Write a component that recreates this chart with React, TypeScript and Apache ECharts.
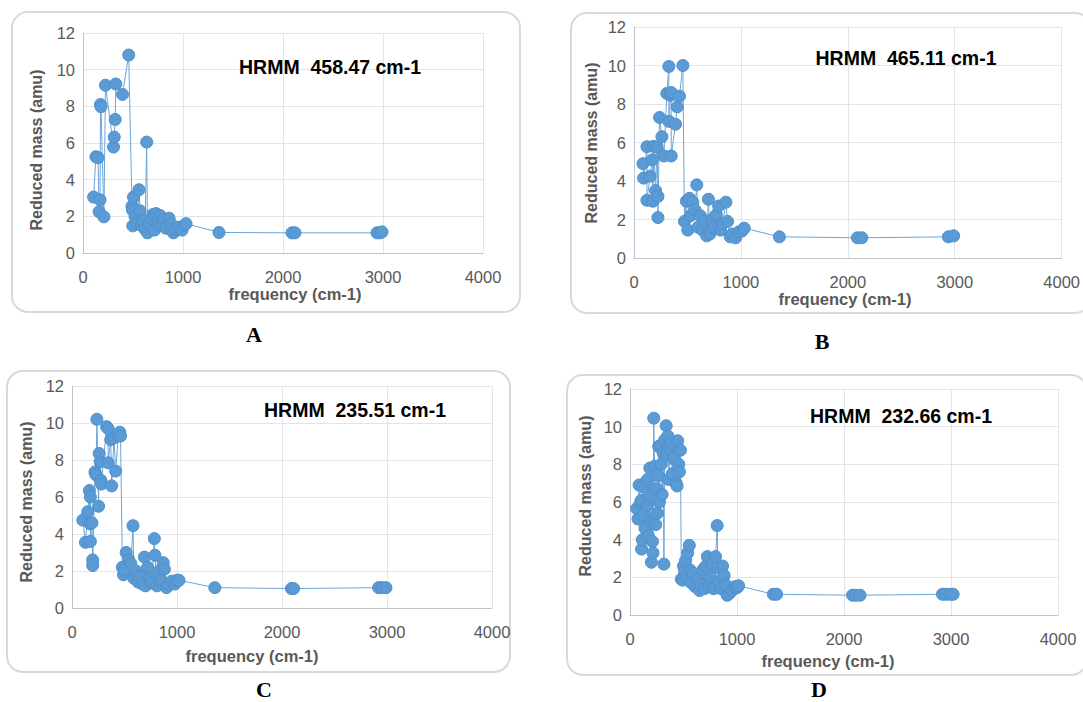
import React, { useEffect, useRef } from "react";
import * as echarts from "echarts";

// ---------- data ----------
const xTicks = [0, 1000, 2000, 3000, 4000];
const yTicks = [0, 2, 4, 6, 8, 10, 12];
const panelTitles = ["HRMM  458.47 cm-1", "HRMM  465.11 cm-1", "HRMM  235.51 cm-1", "HRMM  232.66 cm-1"];
const panelLetters = ["A", "B", "C", "D"];
const xName = "frequency (cm-1)";
const yName = "Reduced mass (amu)";

const freqA = [106, 129, 150, 161, 170, 175, 180, 209, 225, 305, 312, 322, 328, 395, 457, 490, 495, 498, 505, 520, 540, 560, 570, 585, 600, 620, 637, 645, 660, 680, 700, 715, 730, 750, 770, 790, 810, 830, 860, 880, 905, 930, 960, 990, 1010, 1030, 1360, 2090, 2120, 2940, 2970, 2990];
const massA = [3.05, 5.25, 5.2, 2.25, 2.9, 8.1, 7.98, 1.97, 9.15, 5.78, 6.32, 7.28, 9.22, 8.65, 10.8, 2.55, 2.35, 1.48, 3.05, 2.0, 1.6, 3.45, 2.3, 1.5, 1.75, 1.3, 6.05, 1.1, 1.6, 1.9, 2.1, 1.25, 2.15, 1.7, 2.05, 1.5, 1.85, 1.35, 1.9, 1.6, 1.1, 1.3, 1.4, 1.25, 1.5, 1.6, 1.12, 1.1, 1.1, 1.1, 1.1, 1.15];

const freqB = [84, 90, 121, 121, 150, 171, 177, 183, 202, 215, 224, 224, 239, 261, 280, 307, 326, 326, 340, 348, 348, 388, 404, 425, 457, 472, 490, 503, 519, 530, 550, 570, 587, 600, 620, 640, 660, 680, 696, 710, 730, 750, 770, 792, 810, 830, 860, 875, 900, 920, 950, 980, 1010, 1031, 1360, 2090, 2130, 2940, 2990];
const massB = [4.9, 4.15, 5.78, 3.0, 4.25, 5.1, 2.95, 5.8, 3.5, 5.75, 3.2, 2.1, 7.3, 6.3, 5.3, 8.55, 9.95, 7.1, 8.45, 8.6, 5.3, 6.95, 7.85, 8.4, 10.0, 1.9, 2.95, 1.45, 3.1, 2.2, 2.9, 2.5, 3.8, 1.6, 2.2, 1.45, 1.9, 1.15, 3.05, 1.25, 2.0, 1.6, 2.25, 2.7, 1.45, 1.8, 2.9, 1.9, 1.1, 1.25, 1.05, 1.35, 1.4, 1.55, 1.1, 1.05, 1.05, 1.1, 1.15];

const freqC = [103, 128, 150, 166, 172, 175, 175, 190, 197, 197, 219, 228, 237, 253, 259, 268, 275, 280, 330, 344, 344, 369, 378, 400, 416, 440, 455, 462, 480, 490, 500, 516, 540, 560, 581, 590, 610, 630, 650, 670, 690, 700, 720, 740, 760, 784, 790, 810, 830, 850, 869, 880, 900, 920, 950, 980, 1000, 1019, 1360, 2090, 2110, 2920, 2950, 2990];
const massC = [4.75, 3.55, 5.2, 6.35, 4.55, 6.0, 3.6, 4.6, 2.6, 2.3, 7.35, 7.2, 10.2, 5.5, 8.35, 7.9, 6.9, 6.7, 9.8, 9.7, 7.85, 9.1, 6.6, 9.2, 7.4, 9.3, 9.5, 9.3, 2.2, 1.8, 2.05, 3.0, 2.6, 2.4, 4.45, 1.6, 2.0, 1.4, 1.7, 1.3, 2.75, 1.2, 2.2, 1.6, 1.35, 3.75, 2.85, 1.2, 2.0, 1.5, 2.45, 2.1, 1.1, 1.3, 1.45, 1.3, 1.5, 1.5, 1.1, 1.05, 1.05, 1.1, 1.1, 1.1];

const freqD = [62, 75, 85, 92, 100, 108, 108, 115, 123, 130, 140, 154, 160, 165, 172, 185, 190, 200, 205, 210, 215, 222, 230, 240, 248, 255, 262, 268, 275, 285, 292, 300, 310, 317, 325, 338, 345, 354, 360, 375, 385, 395, 405, 420, 430, 440, 446, 455, 462, 471, 480, 492, 500, 510, 520, 530, 540, 554, 560, 575, 590, 610, 630, 650, 665, 680, 695, 710, 723, 735, 750, 765, 780, 800, 815, 820, 835, 850, 865, 880, 895, 908, 930, 955, 980, 1000, 1015, 1340, 1370, 2080, 2110, 2150, 2920, 2950, 2990, 3020];
const massD = [5.65, 5.1, 6.9, 5.1, 6.0, 6.1, 3.5, 4.0, 6.8, 5.3, 4.6, 7.1, 5.8, 7.2, 4.2, 7.8, 6.3, 2.8, 5.0, 3.9, 3.3, 10.45, 7.9, 4.8, 6.7, 5.4, 7.4, 8.95, 6.0, 9.0, 8.0, 6.4, 8.6, 2.7, 9.3, 10.05, 8.5, 9.5, 7.2, 8.8, 9.1, 7.5, 8.3, 9.0, 7.0, 6.85, 9.25, 8.0, 7.6, 8.75, 1.9, 1.85, 2.6, 2.3, 2.9, 2.0, 3.3, 3.7, 2.4, 1.7, 2.2, 1.5, 1.9, 1.3, 1.6, 2.4, 1.4, 2.6, 3.1, 1.5, 2.0, 2.7, 1.4, 3.1, 4.75, 2.5, 1.8, 1.4, 2.6, 2.1, 1.6, 1.05, 1.15, 1.3, 1.5, 1.45, 1.55, 1.1, 1.1, 1.05, 1.05, 1.05, 1.1, 1.1, 1.1, 1.1];

// ---------- layout ----------
const grids = [
  { left: 83, top: 33, width: 400, height: 220 },
  { left: 634, top: 27, width: 428, height: 231 },
  { left: 72, top: 386, width: 420, height: 222 },
  { left: 630, top: 389, width: 428, height: 226 },
];
const borders = [
  { x: 12, y: 12, w: 508, h: 300 },
  { x: 571, y: 13, w: 520, h: 300 },
  { x: 7, y: 371, w: 503, h: 301 },
  { x: 567, y: 375, w: 520, h: 300 },
];
const titlePos = [[330, 67], [906, 58], [355, 410], [901, 416]];
const xNamePos = [[295, 294], [845, 299], [252, 656], [828, 661]];
const yNamePos = [[36, 150], [591, 143], [26, 502], [585, 496]];
const letterPos = [[254, 334], [822, 341], [264, 689], [819, 689]];

const SANS = "'Liberation Sans', Arial, sans-serif";
const SERIF = "'Liberation Serif', 'Times New Roman', serif";

export default function App() {
  const ref = useRef<HTMLDivElement>(null);
  useEffect(() => {
    if (!ref.current) return;
    const chart = echarts.init(ref.current, null, { renderer: "svg" });
    const freqs = [freqA, freqB, freqC, freqD];
    const masses = [massA, massB, massC, massD];

    const graphic: any[] = [];
    borders.forEach((b) => {
      graphic.push({
        type: "rect",
        shape: { x: b.x, y: b.y, width: b.w, height: b.h, r: 16 },
        style: { fill: "none", stroke: "#d9d9d9", lineWidth: 2 },
        z: 0,
      });
    });
    const txt = (text: string, x: number, y: number, s: any, rotation = 0) => ({
      type: "text",
      x,
      y,
      rotation,
      style: {
        text,
        fill: s.fill,
        fontSize: s.fontSize,
        fontWeight: s.fontWeight,
        fontFamily: s.fontFamily,
        textAlign: "center",
        textVerticalAlign: "middle",
        align: "center",
        verticalAlign: "middle",
      },
      z: 10,
    });
    for (let i = 0; i < 4; i++) {
      graphic.push(txt(panelTitles[i], titlePos[i][0], titlePos[i][1], { fill: "#000", fontSize: 19.5, fontWeight: "bold", fontFamily: SANS }));
      graphic.push(txt(xName, xNamePos[i][0], xNamePos[i][1], { fill: "#595959", fontSize: 16.5, fontWeight: "bold", fontFamily: SANS }));
      graphic.push(txt(yName, yNamePos[i][0], yNamePos[i][1], { fill: "#595959", fontSize: 16, fontWeight: "bold", fontFamily: SANS }, Math.PI / 2));
      graphic.push(txt(panelLetters[i], letterPos[i][0], letterPos[i][1], { fill: "#000", fontSize: 22, fontWeight: "bold", fontFamily: SERIF }));
    }

    const option: any = {
      animation: false,
      backgroundColor: "#ffffff",
      grid: grids.map((g) => ({ ...g, containLabel: false })),
      xAxis: grids.map((_, i) => ({
        type: "value",
        gridIndex: i,
        min: xTicks[0],
        max: xTicks[xTicks.length - 1],
        interval: xTicks[1] - xTicks[0],
        axisLine: { show: true, lineStyle: { color: "#bcc4cf", width: 1 } },
        axisTick: { show: false },
        axisLabel: { color: "#595959", fontSize: 16.5, fontFamily: SANS, margin: 15, formatter: (v: number) => String(v) },
        splitLine: { show: true, lineStyle: { color: "#e1e5eb", width: 1 } },
      })),
      yAxis: grids.map((_, i) => ({
        type: "value",
        gridIndex: i,
        min: yTicks[0],
        max: yTicks[yTicks.length - 1],
        interval: yTicks[1] - yTicks[0],
        axisLine: { show: true, lineStyle: { color: "#bcc4cf", width: 1 } },
        axisTick: { show: false },
        axisLabel: { color: "#595959", fontSize: 16.5, fontFamily: SANS, margin: 8, formatter: (v: number) => String(v) },
        splitLine: { show: true, lineStyle: { color: "#e1e5eb", width: 1 } },
      })),
      series: freqs.map((f, i) => ({
        type: "line",
        xAxisIndex: i,
        yAxisIndex: i,
        data: f.map((x, k) => [x, masses[i][k]]),
        symbol: "circle",
        symbolSize: 12,
        showAllSymbol: true,
        lineStyle: { color: "#6aa5db", width: 1 },
        itemStyle: { color: "#5b9bd5", borderColor: "#4f8fcb", borderWidth: 1 },
        emphasis: { disabled: true },
      })),
      graphic,
    };
    chart.setOption(option);
    return () => chart.dispose();
  }, []);
  return (
    <div
      ref={ref}
      style={{ position: "fixed", left: 0, top: 0, width: 1083, height: 702, background: "#fff" }}
    />
  );
}
